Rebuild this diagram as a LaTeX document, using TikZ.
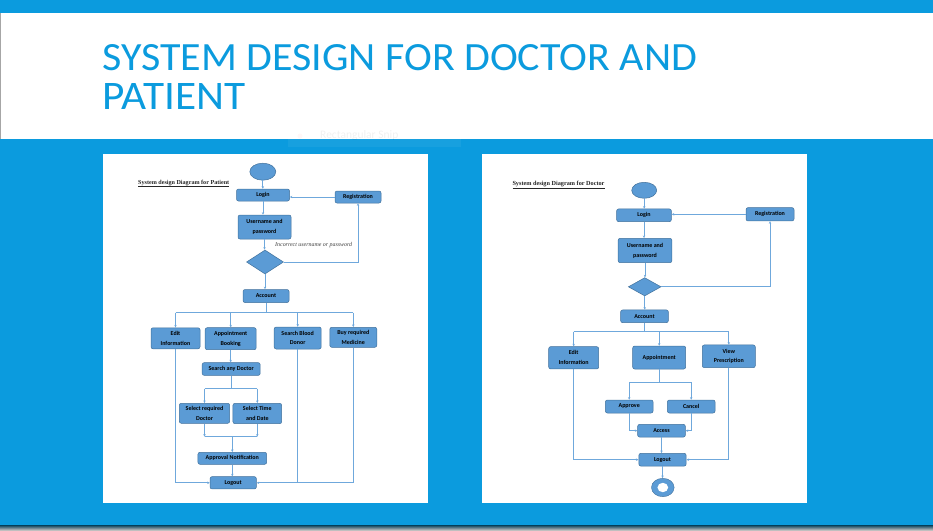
\documentclass[tikz,border=0pt]{standalone}
\usepackage{fontspec}
\setmainfont{Carlito}
\newfontfamily\serifface{Liberation Serif}
\usetikzlibrary{shapes.geometric,arrows.meta}

\definecolor{slideblue}{HTML}{0B9BDE}
\definecolor{boxfill}{HTML}{5B9BD5}
\definecolor{boxline}{HTML}{41719C}
\definecolor{wire}{HTML}{6FA8DC}

\tikzset{
  flowbox/.style={draw=boxline, fill=boxfill, line width=0.5pt, rounded corners=2pt,
    inner sep=0.5pt, align=center, text=black,
    font=\bfseries\fontsize{6}{9.8}\selectfont},
  wireline/.style={draw=wire, line width=0.7pt},
  wirearrow/.style={wireline, -{Stealth[length=2.6pt,width=2.4pt]}},
  terminal/.style={ellipse, draw=boxline, fill=boxfill, line width=0.5pt, inner sep=0pt},
  decision/.style={diamond, draw=boxline, fill=boxfill, line width=0.5pt, inner sep=0pt},
  sheettitle/.style={anchor=west, inner sep=0pt, text=black!85},
}

\begin{document}
\begin{tikzpicture}[x=1pt,y=-1pt]
\useasboundingbox (0,0) rectangle (933,530);

% slide background
\fill[slideblue] (0,0) rectangle (933,525);
\fill[white] (0,13) rectangle (933,139);
\draw[black!35, line width=0.8pt] (0.4,13) -- (0.4,139);
\shade[top color=black!60!slideblue, bottom color=black!25!white] (0,525) rectangle (933,530);

% slide title
\node[anchor=base west, inner sep=0pt, text=slideblue] (title1) at (102,70)
  {\resizebox{595pt}{26pt}{SYSTEM DESIGN FOR DOCTOR AND}};
\node[anchor=base west, inner sep=0pt, text=slideblue] (title2) at (102,109)
  {\resizebox{143pt}{26pt}{PATIENT}};

% faint tool tip
\fill[white, opacity=0.05] (288,126) rectangle (461,147);
\fill[red!40, opacity=0.08] (300,136) circle (2.5);
\node[anchor=west, inner sep=0pt, text=black, text opacity=0.06, font=\fontsize{11.5}{12}\selectfont]
  (snip) at (320,135.5) {Rectangular Snip};

% two sheets
\fill[white] (103,154) rectangle (428,503);
\fill[white] (482,154) rectangle (807,503);

% ---------------- patient flow ----------------
\node[sheettitle] (ptitle) at (138,183.3)
  {\resizebox{91pt}{!}{\serifface\bfseries\underline{System design Diagram for Patient}}};
\node[terminal, minimum width=26pt, minimum height=17pt] (pstart) at (262.8,171.7) {};
\node[flowbox, minimum width=53pt, minimum height=12pt] (plogin) at (263,195) {Login};
\node[flowbox, minimum width=46pt, minimum height=12pt] (preg) at (358,197) {Registration};
\node[flowbox, minimum width=53pt, minimum height=24pt] (puser) at (264.5,227) {Username and\\password};
\node[decision, minimum width=37pt, minimum height=24pt] (pdec) at (265,262) {};
\node[anchor=west, inner sep=0pt, text=black!75] (pwrong) at (275,244.7)
  {\resizebox{77pt}{!}{\serifface\itshape Incorrect username or password}};
\node[flowbox, minimum width=46pt, minimum height=13pt] (pacc) at (266,296) {Account};
\node[flowbox, minimum width=49pt, minimum height=21pt] (pedit) at (175.5,338.3) {Edit\\Information};
\node[flowbox, minimum width=51pt, minimum height=22pt] (pbook) at (230.7,338.7) {Appointment\\Booking};
\node[flowbox, minimum width=47pt, minimum height=22pt] (pblood) at (297.7,338) {Search Blood\\Donor};
\node[flowbox, minimum width=47pt, minimum height=20pt] (pbuy) at (353.3,337.3) {Buy required\\Medicine};
\node[flowbox, minimum width=58pt, minimum height=12.7pt] (psearch) at (231.2,369) {Search any Doctor};
\node[flowbox, minimum width=50.4pt, minimum height=20pt] (pdoc) at (204.5,413.3) {Select required\\Doctor};
\node[flowbox, minimum width=48.7pt, minimum height=20.3pt] (ptime) at (257.3,413.5) {Select Time\\and Date};
\node[flowbox, minimum width=68.7pt, minimum height=12pt] (pnote) at (232.3,458.3) {Approval Notification};
\node[flowbox, minimum width=46.3pt, minimum height=12.3pt] (pout) at (233.2,482.8) {Logout};

\coordinate (pbus) at (266,312.7);
\coordinate (psplit) at (231.7,388.7);
\coordinate (pjoin) at (232,436.7);

\draw[wirearrow] (pstart.south) -- (pstart.south |- plogin.north);
\draw[wirearrow] (preg.west) -- (preg.west -| plogin.east);
\draw[wirearrow] (plogin.south) -- (plogin.south |- puser.north);
\draw[wirearrow] (puser.south) -- (puser.south |- pdec.north);
\draw[wirearrow] (pdec.east) -| (preg.south);
\draw[wirearrow] (pdec.south) -- (pdec.south |- pacc.north);
\draw[wireline] (pacc.south) -- (pbus);
\draw[wireline] (pedit.north |- pbus) -- (pbuy.north |- pbus);
\foreach \n in {pedit,pbook,pblood,pbuy}
  \draw[wirearrow] (\n.north |- pbus) -- (\n.north);
\draw[wirearrow] (pbook.south) -- (pbook.south |- psearch.north);
\draw[wireline] (psearch.south) -- (psearch.south |- psplit);
\draw[wireline] (pdoc.north |- psplit) -- (ptime.north |- psplit);
\foreach \n in {pdoc,ptime}
  \draw[wirearrow] (\n.north |- psplit) -- (\n.north);
\foreach \n in {pdoc,ptime}
  \draw[wirearrow] (\n.south) -- (\n.south |- pjoin);
\draw[wireline] (pdoc.south |- pjoin) -- (ptime.south |- pjoin);
\draw[wirearrow] (pnote.north |- pjoin) -- (pnote.north);
\draw[wirearrow] (pnote.south) -- (pnote.south |- pout.north);
\draw[wirearrow] (pedit.south) |- (pout.west);
\draw[wirearrow] (pbuy.south) |- (pout.east);
\draw[wireline] (pblood.south) -- (pblood.south |- pout.east);

% ---------------- doctor flow ----------------
\node[sheettitle] (dtitle) at (512.3,185)
  {\resizebox{92pt}{!}{\serifface\bfseries\underline{System design Diagram for Doctor}}};
\node[terminal, minimum width=25pt, minimum height=16pt] (dstart) at (644.2,190.3) {};
\node[flowbox, minimum width=54.7pt, minimum height=12.7pt] (dlogin) at (644,215.3) {Login};
\node[flowbox, minimum width=48pt, minimum height=13.3pt] (dreg) at (770,214.3) {Registration};
\node[flowbox, minimum width=53.7pt, minimum height=24.4pt] (duser) at (645,250.5) {Username and\\password};
\node[decision, minimum width=32.7pt, minimum height=18.3pt] (ddec) at (644.7,286.8) {};
\node[flowbox, minimum width=47.7pt, minimum height=12.7pt] (dacc) at (644.5,316.3) {Account};
\node[flowbox, minimum width=50pt, minimum height=22.3pt] (dedit) at (573.7,357.8) {Edit\\Information};
\node[flowbox, minimum width=53pt, minimum height=23pt] (dappt) at (659.2,357.5) {Appointment};
\node[flowbox, minimum width=53pt, minimum height=22.7pt] (dview) at (728.8,356.3) {View\\Prescription};
\node[flowbox, minimum width=47.7pt, minimum height=13pt] (dok) at (629.2,406.5) {Approve};
\node[flowbox, minimum width=47.7pt, minimum height=13pt] (dno) at (691.2,406.5) {Cancel};
\node[flowbox, minimum width=47.7pt, minimum height=12.7pt] (dacs) at (661.5,430.7) {Access};
\node[flowbox, minimum width=47.3pt, minimum height=12.7pt] (dout) at (662.5,459.7) {Logout};
\node[ellipse, fill=boxfill, draw=boxline, line width=0.4pt, inner sep=0pt,
  minimum width=22.7pt, minimum height=18.4pt] (dend) at (662.8,487.5) {};
\node[ellipse, fill=white, inner sep=0pt, minimum width=10.7pt, minimum height=9.4pt]
  (dendhole) at (dend) {};

\coordinate (dbus) at (643.3,331.7);
\coordinate (dsplit) at (659.3,382);

\draw[wirearrow] (dstart.south) -- (dstart.south |- dlogin.north);
\draw[wirearrow] (dreg.west) -- (dreg.west -| dlogin.east);
\draw[wirearrow] (dlogin.south) -- (dlogin.south |- duser.north);
\draw[wirearrow] (duser.south) -- (duser.south |- ddec.north);
\draw[wirearrow] (ddec.east) -| (dreg.south);
\draw[wirearrow] (ddec.south) -- (ddec.south |- dacc.north);
\draw[wireline] (dacc.south) -- (dacc.south |- dbus);
\draw[wireline] (dedit.north |- dbus) -- (dview.north |- dbus);
\foreach \n in {dedit,dappt,dview}
  \draw[wirearrow] (\n.north |- dbus) -- (\n.north);
\draw[wireline] (dappt.south) -- (dappt.south |- dsplit);
\draw[wireline] (dok.north |- dsplit) -- (dno.north |- dsplit);
\foreach \n in {dok,dno}
  \draw[wirearrow] (\n.north |- dsplit) -- (\n.north);
\draw[wirearrow] (dok.south) |- (dacs.west);
\draw[wirearrow] (dno.south) |- (dacs.east);
\draw[wirearrow] (dacs.south) -- (dacs.south |- dout.north);
\draw[wirearrow] (dedit.south) |- (dout.west);
\draw[wirearrow] (dview.south) |- (dout.east);
\draw[wirearrow] (dout.south) -- (dout.south |- dend.north);
\end{tikzpicture}
\end{document}
